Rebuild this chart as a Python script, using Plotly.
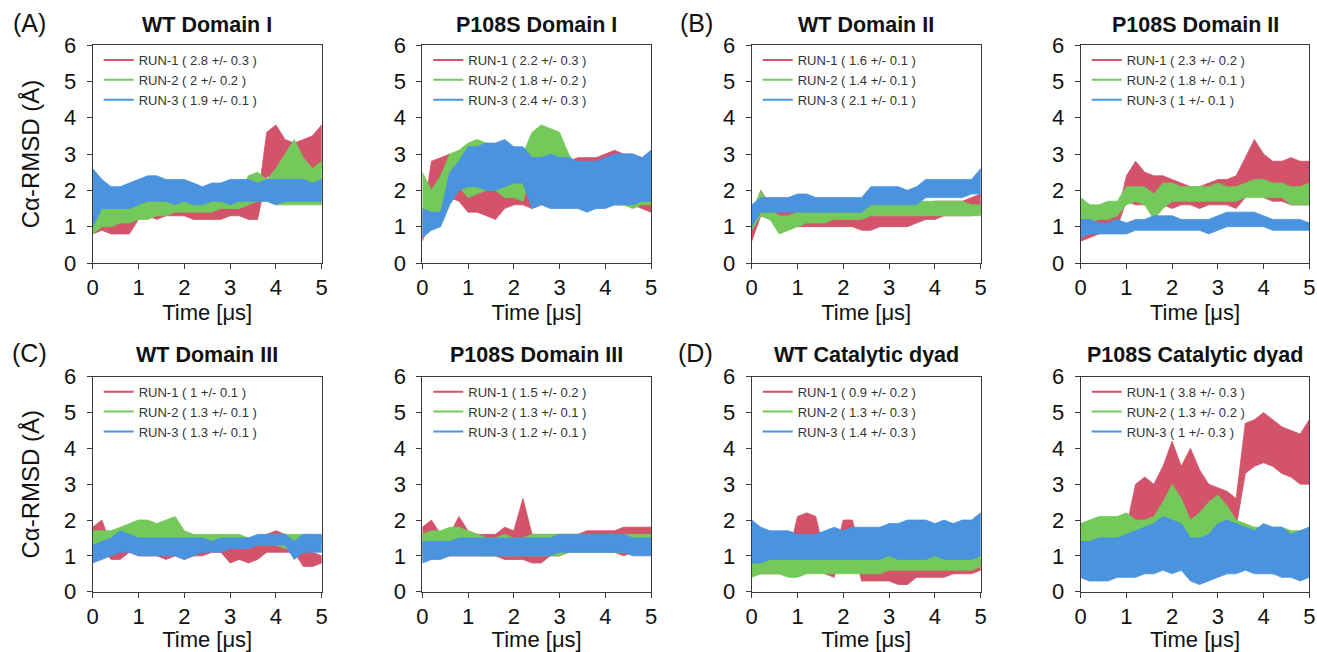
import plotly.graph_objects as go
from plotly.subplots import make_subplots

# ---------------- data (envelopes of each noisy trace, read every 0.2 us) ----------------
TIME = [0.0, 0.2, 0.4, 0.6, 0.8, 1.0, 1.2, 1.4, 1.6, 1.8, 2.0, 2.2, 2.4,
        2.6, 2.8, 3.0, 3.2, 3.4, 3.6, 3.8, 4.0, 4.2, 4.4, 4.6, 4.8, 5.0]

TITLES = ["WT Domain I", "P108S Domain I", "WT Domain II", "P108S Domain II",
          "WT Domain III", "P108S Domain III", "WT Catalytic dyad", "P108S Catalytic dyad"]
PANEL_TAGS = ["(A)", "(B)", "(C)", "(D)"]
RUN_NAMES = ["RUN-1", "RUN-2", "RUN-3"]

STATS = [
    ["( 2.8 +/- 0.3 )", "( 2 +/- 0.2 )", "( 1.9 +/- 0.1 )"],
    ["( 2.2 +/- 0.3 )", "( 1.8 +/- 0.2 )", "( 2.4 +/- 0.3 )"],
    ["( 1.6 +/- 0.1 )", "( 1.4 +/- 0.1 )", "( 2.1 +/- 0.1 )"],
    ["( 2.3 +/- 0.2 )", "( 1.8 +/- 0.1 )", "( 1 +/- 0.1 )"],
    ["( 1 +/- 0.1 )", "( 1.3 +/- 0.1 )", "( 1.3 +/- 0.1 )"],
    ["( 1.5 +/- 0.2 )", "( 1.3 +/- 0.1 )", "( 1.2 +/- 0.1 )"],
    ["( 0.9 +/- 0.2 )", "( 1.3 +/- 0.3 )", "( 1.4 +/- 0.3 )"],
    ["( 3.8 +/- 0.3 )", "( 1.3 +/- 0.2 )", "( 1 +/- 0.3 )"],
]

# WT Domain I
WT_D1_R1_LO = [0.8, 0.9, 0.8, 0.8, 0.8, 1.2, 1.3, 1.2, 1.3, 1.3, 1.3, 1.2, 1.2, 1.2, 1.2, 1.3, 1.3, 1.2, 1.2, 2.4, 2.2, 2.2, 2.3, 2.4, 2.5, 2.6]
WT_D1_R1_HI = [1.2, 1.4, 1.5, 1.5, 1.4, 1.8, 1.8, 2.0, 1.8, 1.7, 1.8, 1.7, 1.6, 1.6, 1.6, 1.7, 1.7, 1.7, 1.7, 3.6, 3.8, 3.4, 3.3, 3.4, 3.5, 3.8]
WT_D1_R2_LO = [0.8, 1.0, 1.0, 1.1, 1.1, 1.2, 1.2, 1.3, 1.3, 1.4, 1.4, 1.4, 1.4, 1.4, 1.5, 1.5, 1.5, 1.6, 1.7, 1.7, 1.6, 1.6, 1.6, 1.6, 1.6, 1.6]
WT_D1_R2_HI = [1.3, 1.5, 1.6, 1.6, 1.7, 1.7, 1.7, 1.7, 1.7, 1.7, 1.8, 1.8, 1.8, 1.8, 1.8, 1.8, 1.9, 2.4, 2.5, 2.3, 2.6, 3.0, 3.4, 2.9, 2.6, 2.8]
WT_D1_R3_LO = [1.0, 1.5, 1.5, 1.5, 1.5, 1.6, 1.7, 1.7, 1.7, 1.6, 1.7, 1.6, 1.6, 1.7, 1.7, 1.6, 1.7, 1.7, 1.7, 1.7, 1.6, 1.7, 1.7, 1.7, 1.7, 1.7]
WT_D1_R3_HI = [2.6, 2.3, 2.1, 2.1, 2.2, 2.3, 2.4, 2.4, 2.3, 2.3, 2.3, 2.2, 2.1, 2.2, 2.2, 2.3, 2.3, 2.3, 2.2, 2.3, 2.3, 2.3, 2.3, 2.3, 2.2, 2.3]

# P108S Domain I
MU_D1_R1_LO = [0.6, 1.2, 2.0, 1.8, 1.7, 1.4, 1.4, 1.3, 1.2, 1.5, 1.6, 1.6, 1.5, 1.6, 1.7, 1.7, 1.7, 1.7, 1.7, 1.6, 1.6, 1.6, 1.6, 1.6, 1.5, 1.4]
MU_D1_R1_HI = [1.2, 2.8, 2.9, 3.0, 2.6, 2.0, 2.0, 2.0, 2.0, 2.2, 2.4, 2.4, 2.6, 2.7, 2.8, 2.8, 2.8, 2.9, 2.9, 2.9, 3.0, 3.1, 3.0, 3.0, 2.9, 2.8]
MU_D1_R2_LO = [1.2, 1.1, 1.0, 2.0, 2.1, 1.8, 1.9, 2.0, 2.0, 1.8, 1.8, 1.7, 2.5, 2.5, 2.5, 2.4, 2.0, 1.8, 1.7, 1.6, 1.6, 1.6, 1.6, 1.5, 1.6, 1.6]
MU_D1_R2_HI = [2.5, 2.0, 2.4, 3.0, 3.1, 3.3, 3.4, 3.3, 3.2, 3.2, 3.0, 3.0, 3.6, 3.8, 3.7, 3.6, 3.0, 2.6, 2.5, 2.6, 2.6, 2.7, 2.6, 2.6, 2.6, 2.7]
MU_D1_R3_LO = [0.7, 0.9, 1.0, 1.6, 2.0, 2.1, 2.1, 2.0, 2.0, 2.1, 2.2, 2.2, 1.5, 1.6, 1.5, 1.5, 1.5, 1.5, 1.4, 1.5, 1.5, 1.6, 1.6, 1.6, 1.7, 1.7]
MU_D1_R3_HI = [1.5, 1.4, 1.4, 2.5, 2.8, 3.2, 3.2, 3.3, 3.3, 3.4, 3.2, 3.2, 2.9, 2.9, 3.0, 2.9, 2.9, 2.8, 2.8, 2.8, 2.9, 3.0, 3.0, 3.0, 2.9, 3.1]

# WT Domain II
WT_D2_R1_LO = [0.6, 1.3, 1.2, 1.1, 1.1, 1.0, 1.0, 1.0, 1.0, 1.0, 1.0, 1.0, 0.9, 0.9, 1.0, 1.0, 1.0, 1.0, 1.1, 1.2, 1.2, 1.3, 1.3, 1.3, 1.3, 1.4]
WT_D2_R1_HI = [1.3, 2.0, 1.6, 1.5, 1.5, 1.4, 1.4, 1.3, 1.3, 1.3, 1.3, 1.3, 1.3, 1.4, 1.4, 1.4, 1.4, 1.5, 1.5, 1.6, 1.7, 1.7, 1.7, 1.7, 1.8, 1.9]
WT_D2_R2_LO = [0.9, 1.3, 1.2, 0.8, 0.9, 1.0, 1.1, 1.1, 1.1, 1.2, 1.2, 1.2, 1.2, 1.3, 1.3, 1.3, 1.3, 1.3, 1.3, 1.3, 1.3, 1.3, 1.3, 1.3, 1.3, 1.3]
WT_D2_R2_HI = [1.4, 2.0, 1.5, 1.3, 1.3, 1.4, 1.4, 1.5, 1.5, 1.5, 1.5, 1.5, 1.5, 1.7, 1.7, 1.7, 1.7, 1.7, 1.7, 1.7, 1.7, 1.7, 1.7, 1.7, 1.6, 1.6]
WT_D2_R3_LO = [1.0, 1.4, 1.4, 1.4, 1.4, 1.4, 1.4, 1.4, 1.4, 1.4, 1.4, 1.4, 1.4, 1.6, 1.6, 1.6, 1.6, 1.6, 1.6, 1.8, 1.8, 1.8, 1.8, 1.8, 1.9, 1.9]
WT_D2_R3_HI = [1.6, 1.8, 1.8, 1.8, 1.8, 1.9, 1.9, 1.8, 1.8, 1.8, 1.8, 1.8, 1.8, 2.1, 2.1, 2.1, 2.1, 2.0, 2.1, 2.3, 2.3, 2.3, 2.3, 2.3, 2.3, 2.6]

# P108S Domain II
MU_D2_R1_LO = [0.6, 0.7, 0.8, 0.9, 1.0, 1.7, 1.6, 1.6, 1.6, 1.6, 1.5, 1.6, 1.6, 1.5, 1.6, 1.6, 1.6, 1.5, 1.8, 2.0, 1.8, 1.7, 1.7, 1.6, 1.6, 1.6]
MU_D2_R1_HI = [0.9, 1.1, 1.2, 1.3, 1.3, 2.4, 2.8, 2.5, 2.4, 2.4, 2.3, 2.2, 2.1, 2.1, 2.2, 2.3, 2.3, 2.4, 2.9, 3.4, 3.0, 2.8, 2.8, 2.9, 2.8, 2.8]
MU_D2_R2_LO = [1.0, 1.1, 1.2, 1.2, 1.3, 1.6, 1.7, 1.6, 1.2, 1.5, 1.7, 1.7, 1.7, 1.7, 1.7, 1.7, 1.7, 1.7, 1.8, 1.8, 1.8, 1.8, 1.8, 1.6, 1.6, 1.6]
MU_D2_R2_HI = [1.8, 1.6, 1.6, 1.7, 1.7, 2.1, 2.1, 2.1, 1.9, 2.2, 2.2, 2.1, 2.1, 2.1, 2.1, 2.2, 2.1, 2.1, 2.2, 2.3, 2.3, 2.2, 2.2, 2.1, 2.1, 2.2]
MU_D2_R3_LO = [0.7, 0.8, 0.8, 0.8, 0.8, 0.8, 0.9, 0.9, 0.9, 0.9, 0.9, 0.9, 0.9, 0.9, 0.8, 0.9, 1.0, 1.0, 1.0, 1.0, 1.0, 0.9, 0.9, 0.9, 0.9, 0.9]
MU_D2_R3_HI = [1.2, 1.2, 1.1, 1.1, 1.2, 1.1, 1.2, 1.2, 1.3, 1.3, 1.3, 1.2, 1.2, 1.2, 1.2, 1.3, 1.4, 1.4, 1.4, 1.4, 1.3, 1.2, 1.2, 1.2, 1.2, 1.1]

# WT Domain III
WT_D3_R1_LO = [1.1, 1.2, 0.9, 0.9, 1.1, 1.0, 1.0, 1.0, 0.9, 1.0, 0.9, 1.0, 1.0, 1.1, 1.1, 0.8, 0.9, 0.8, 0.9, 1.1, 1.1, 1.1, 1.1, 0.7, 0.7, 0.8]
WT_D3_R1_HI = [1.8, 2.0, 1.3, 1.4, 1.4, 1.4, 1.4, 1.5, 1.5, 1.5, 1.5, 1.5, 1.5, 1.5, 1.6, 1.3, 1.2, 1.2, 1.3, 1.6, 1.7, 1.6, 1.5, 1.2, 1.1, 1.0]
WT_D3_R2_LO = [1.3, 1.3, 1.4, 1.5, 1.5, 1.5, 1.5, 1.5, 1.5, 1.5, 1.3, 1.3, 1.3, 1.3, 1.3, 1.3, 1.3, 1.3, 1.3, 1.3, 1.3, 1.2, 1.2, 1.2, 1.2, 1.3]
WT_D3_R2_HI = [1.7, 1.7, 1.7, 1.8, 1.9, 2.0, 2.0, 1.9, 2.0, 2.1, 1.7, 1.6, 1.6, 1.6, 1.6, 1.6, 1.6, 1.5, 1.5, 1.6, 1.6, 1.6, 1.6, 1.6, 1.6, 1.5]
WT_D3_R3_LO = [0.8, 0.9, 1.0, 1.1, 1.1, 1.0, 1.0, 1.0, 1.0, 1.0, 0.9, 1.0, 1.1, 1.1, 1.1, 1.2, 1.2, 1.2, 1.3, 1.3, 1.3, 1.3, 0.9, 1.1, 1.1, 1.1]
WT_D3_R3_HI = [1.3, 1.4, 1.5, 1.7, 1.6, 1.5, 1.5, 1.5, 1.5, 1.5, 1.5, 1.5, 1.5, 1.4, 1.5, 1.5, 1.5, 1.5, 1.6, 1.6, 1.6, 1.6, 1.4, 1.6, 1.6, 1.6]

# P108S Domain III
MU_D3_R1_LO = [0.9, 1.0, 1.0, 1.0, 1.0, 1.0, 1.0, 1.0, 1.0, 0.9, 0.9, 0.9, 0.8, 0.8, 1.0, 1.0, 1.1, 1.1, 1.1, 1.1, 1.1, 1.1, 1.0, 1.1, 1.1, 1.2]
MU_D3_R1_HI = [1.8, 2.0, 1.6, 1.6, 2.1, 1.7, 1.6, 1.6, 1.6, 1.8, 1.7, 2.6, 1.6, 1.6, 1.6, 1.6, 1.6, 1.6, 1.7, 1.7, 1.7, 1.7, 1.8, 1.8, 1.8, 1.8]
MU_D3_R2_LO = [1.0, 1.1, 1.2, 1.2, 1.2, 1.1, 1.0, 1.0, 1.0, 1.0, 1.0, 1.0, 1.0, 1.0, 1.0, 1.0, 1.1, 1.1, 1.1, 1.1, 1.1, 1.1, 1.1, 1.1, 1.1, 1.2]
MU_D3_R2_HI = [1.6, 1.7, 1.7, 1.8, 1.8, 1.7, 1.6, 1.5, 1.5, 1.6, 1.5, 1.5, 1.6, 1.6, 1.6, 1.6, 1.6, 1.6, 1.6, 1.6, 1.6, 1.6, 1.6, 1.6, 1.6, 1.6]
MU_D3_R3_LO = [0.8, 0.9, 0.9, 1.0, 1.0, 1.0, 1.0, 1.0, 1.0, 1.0, 1.0, 1.0, 1.0, 1.0, 1.0, 1.1, 1.1, 1.1, 1.1, 1.1, 1.1, 1.1, 1.1, 1.0, 1.0, 1.0]
MU_D3_R3_HI = [1.4, 1.4, 1.4, 1.4, 1.5, 1.5, 1.5, 1.5, 1.5, 1.5, 1.5, 1.5, 1.5, 1.5, 1.5, 1.6, 1.6, 1.6, 1.6, 1.6, 1.6, 1.6, 1.6, 1.5, 1.5, 1.5]

# WT Catalytic dyad
WT_CD_R1_LO = [0.5, 0.5, 0.5, 0.5, 0.5, 1.3, 1.3, 1.3, 0.5, 0.4, 1.3, 1.3, 0.3, 0.3, 0.3, 0.3, 0.2, 0.2, 0.4, 0.4, 0.4, 0.4, 0.5, 0.5, 0.5, 0.6]
WT_CD_R1_HI = [1.0, 1.0, 0.9, 0.9, 1.0, 2.1, 2.2, 2.1, 1.0, 1.0, 2.0, 2.0, 1.0, 0.9, 0.9, 0.9, 1.1, 1.0, 0.9, 0.9, 0.9, 0.9, 0.9, 0.9, 0.9, 0.9]
WT_CD_R2_LO = [0.4, 0.5, 0.5, 0.5, 0.4, 0.4, 0.5, 0.5, 0.5, 0.5, 0.5, 0.5, 0.5, 0.5, 0.5, 0.6, 0.6, 0.6, 0.6, 0.6, 0.6, 0.6, 0.6, 0.6, 0.6, 0.7]
WT_CD_R2_HI = [1.1, 1.0, 1.0, 1.0, 1.0, 1.0, 1.0, 1.0, 1.0, 1.0, 1.0, 1.0, 1.0, 1.1, 1.1, 1.1, 1.1, 1.0, 1.1, 1.1, 1.1, 1.1, 1.0, 1.0, 1.0, 1.0]
WT_CD_R3_LO = [0.8, 0.8, 0.9, 0.9, 0.9, 0.9, 0.9, 0.9, 0.9, 0.9, 0.9, 0.9, 0.9, 0.9, 0.9, 1.0, 0.9, 0.9, 0.9, 0.9, 1.0, 0.9, 0.9, 0.9, 0.9, 1.0]
WT_CD_R3_HI = [2.0, 1.8, 1.7, 1.7, 1.7, 1.6, 1.6, 1.6, 1.7, 1.8, 1.7, 1.8, 1.8, 1.8, 1.8, 1.9, 1.9, 2.0, 2.0, 2.0, 1.9, 2.0, 1.9, 2.0, 2.0, 2.2]

# P108S Catalytic dyad
MU_CD_R1_LO = [0.4, 0.3, 0.4, 0.5, 0.6, 0.8, 1.3, 1.4, 1.5, 1.6, 1.8, 1.7, 2.0, 1.9, 1.8, 1.6, 1.7, 1.8, 3.3, 3.5, 3.6, 3.5, 3.3, 3.2, 3.0, 3.0]
MU_CD_R1_HI = [0.8, 1.0, 2.0, 1.5, 1.5, 1.8, 3.0, 3.2, 3.0, 3.5, 4.2, 3.5, 4.0, 3.4, 3.0, 2.9, 2.8, 2.6, 4.7, 4.8, 5.0, 4.8, 4.6, 4.5, 4.4, 4.8]
MU_CD_R2_LO = [1.0, 1.1, 1.1, 1.2, 1.2, 1.2, 1.0, 1.1, 1.2, 1.5, 1.6, 1.7, 1.4, 1.5, 1.5, 1.4, 1.2, 1.0, 0.8, 0.7, 0.7, 0.7, 0.7, 0.7, 0.8, 0.9]
MU_CD_R2_HI = [1.9, 2.0, 2.1, 2.1, 2.1, 2.2, 2.0, 2.0, 2.1, 2.5, 3.0, 2.6, 2.0, 2.2, 2.5, 2.7, 2.4, 2.0, 1.9, 1.8, 1.8, 1.8, 1.8, 1.7, 1.7, 1.8]
MU_CD_R3_LO = [0.4, 0.3, 0.3, 0.3, 0.4, 0.4, 0.4, 0.5, 0.5, 0.6, 0.5, 0.6, 0.3, 0.2, 0.3, 0.4, 0.5, 0.5, 0.6, 0.5, 0.5, 0.5, 0.4, 0.4, 0.3, 0.4]
MU_CD_R3_HI = [1.4, 1.4, 1.5, 1.5, 1.5, 1.6, 1.7, 1.8, 1.9, 2.1, 2.0, 1.9, 1.5, 1.5, 1.6, 1.9, 2.0, 1.9, 1.8, 1.7, 1.9, 1.8, 1.8, 1.6, 1.7, 1.8]

PANEL_DATA = [
    [(WT_D1_R1_LO, WT_D1_R1_HI), (WT_D1_R2_LO, WT_D1_R2_HI), (WT_D1_R3_LO, WT_D1_R3_HI)],
    [(MU_D1_R1_LO, MU_D1_R1_HI), (MU_D1_R2_LO, MU_D1_R2_HI), (MU_D1_R3_LO, MU_D1_R3_HI)],
    [(WT_D2_R1_LO, WT_D2_R1_HI), (WT_D2_R2_LO, WT_D2_R2_HI), (WT_D2_R3_LO, WT_D2_R3_HI)],
    [(MU_D2_R1_LO, MU_D2_R1_HI), (MU_D2_R2_LO, MU_D2_R2_HI), (MU_D2_R3_LO, MU_D2_R3_HI)],
    [(WT_D3_R1_LO, WT_D3_R1_HI), (WT_D3_R2_LO, WT_D3_R2_HI), (WT_D3_R3_LO, WT_D3_R3_HI)],
    [(MU_D3_R1_LO, MU_D3_R1_HI), (MU_D3_R2_LO, MU_D3_R2_HI), (MU_D3_R3_LO, MU_D3_R3_HI)],
    [(WT_CD_R1_LO, WT_CD_R1_HI), (WT_CD_R2_LO, WT_CD_R2_HI), (WT_CD_R3_LO, WT_CD_R3_HI)],
    [(MU_CD_R1_LO, MU_CD_R1_HI), (MU_CD_R2_LO, MU_CD_R2_HI), (MU_CD_R3_LO, MU_CD_R3_HI)],
]

# ---------------- styling ----------------
W, H = 1317, 652
COLORS = ["#d2536a", "#74c95a", "#4a93de"]
FONT = "Liberation Sans, Arial, Helvetica, sans-serif"
AXIS_COLOR = "#3a3a3a"

X_DOM_PX = [(92.7, 321.7), (422.3, 651.0), (751.7, 980.7), (1080.7, 1309.3)]
Y_DOM_PX = [(45.0, 263.0), (376.7, 591.7)]  # (top, bottom) in pixels


def px_x(v):
    return v / W


def px_y(v):
    return 1 - v / H


fig = make_subplots(rows=2, cols=4)

for i in range(8):
    r, c = i // 4 + 1, i % 4 + 1
    leg = "legend" if i == 0 else f"legend{i + 1}"
    for k, (lo, hi) in enumerate(PANEL_DATA[i]):
        fig.add_trace(go.Scatter(
            x=TIME + TIME[::-1], y=hi + lo[::-1],
            mode="lines", fill="toself", fillcolor=COLORS[k],
            line=dict(color=COLORS[k], width=0.8),
            showlegend=False, hoverinfo="skip", legend=leg,
        ), row=r, col=c)
    for k in range(3):
        fig.add_trace(go.Scatter(
            x=[None], y=[None], mode="lines",
            line=dict(color=COLORS[k], width=2),
            name=f"{RUN_NAMES[k]} {STATS[i][k]}",
            showlegend=True, legend=leg,
        ), row=r, col=c)

layout = dict(
    width=W, height=H,
    margin=dict(l=0, r=0, t=0, b=0, autoexpand=False),
    paper_bgcolor="white", plot_bgcolor="white",
    font=dict(family=FONT, color="#111"),
)

annotations = []
for i in range(8):
    r, c = i // 4, i % 4
    xd = [px_x(X_DOM_PX[c][0]), px_x(X_DOM_PX[c][1])]
    yd = [px_y(Y_DOM_PX[r][1]), px_y(Y_DOM_PX[r][0])]
    sfx = "" if i == 0 else str(i + 1)
    layout["xaxis" + sfx] = dict(
        domain=xd, range=[0, 5], tickvals=[0, 1, 2, 3, 4, 5],
        ticks="outside", ticklen=5, tickcolor=AXIS_COLOR, tickwidth=1,
        showline=True, linecolor=AXIS_COLOR, linewidth=1, mirror=True,
        showgrid=False, zeroline=False, automargin=False,
        tickfont=dict(size=22, family=FONT, color="#111"),
        title=dict(text="Time [\u03bcs]", font=dict(size=22, family=FONT, color="#111"), standoff=4),
    )
    yax = dict(
        domain=yd, range=[0, 6], tickvals=[0, 1, 2, 3, 4, 5, 6],
        ticks="outside", ticklen=5, tickcolor=AXIS_COLOR, tickwidth=1,
        showline=True, linecolor=AXIS_COLOR, linewidth=1, mirror=True,
        showgrid=False, zeroline=False, automargin=False,
        ticklabelstandoff=6,
        tickfont=dict(size=22, family=FONT, color="#111"),
    )
    if c == 0:
        yax["title"] = dict(text="C\u03b1-RMSD (\u00c5)",
                            font=dict(size=24, family=FONT, color="#111"), standoff=17)
    layout["yaxis" + sfx] = yax

    leg = "legend" if i == 0 else f"legend{i + 1}"
    layout[leg] = dict(
        x=px_x(X_DOM_PX[c][0] + 6), y=px_y(Y_DOM_PX[r][0] + 0),
        xanchor="left", yanchor="top",
        bgcolor="rgba(0,0,0,0)", borderwidth=0,
        font=dict(size=13, family=FONT, color="#333"),
        itemclick=False, itemdoubleclick=False,
    )

    # subplot title
    annotations.append(dict(
        text=f"<b>{TITLES[i]}</b>", showarrow=False,
        x=(xd[0] + xd[1]) / 2, y=px_y(25 if r == 0 else 355),
        xref="paper", yref="paper", xanchor="center", yanchor="middle",
        font=dict(size=21.5, family=FONT, color="#111"),
    ))

# panel tags (A)-(D)
tag_pos = [(29.5, 23), (696, 23), (29.5, 353), (695, 353)]
for t, (tx, ty) in zip(PANEL_TAGS, tag_pos):
    annotations.append(dict(
        text=t, showarrow=False, x=px_x(tx), y=px_y(ty),
        xref="paper", yref="paper", xanchor="center", yanchor="middle",
        font=dict(size=25, family=FONT, color="#111"),
    ))

layout["annotations"] = annotations
fig.update_layout(**layout)

fig.write_html(
    "out.html",
    config={"displayModeBar": False},
    post_script="document.body.style.margin='0';document.body.style.padding='0';"
                "document.body.style.overflow='hidden';",
)
